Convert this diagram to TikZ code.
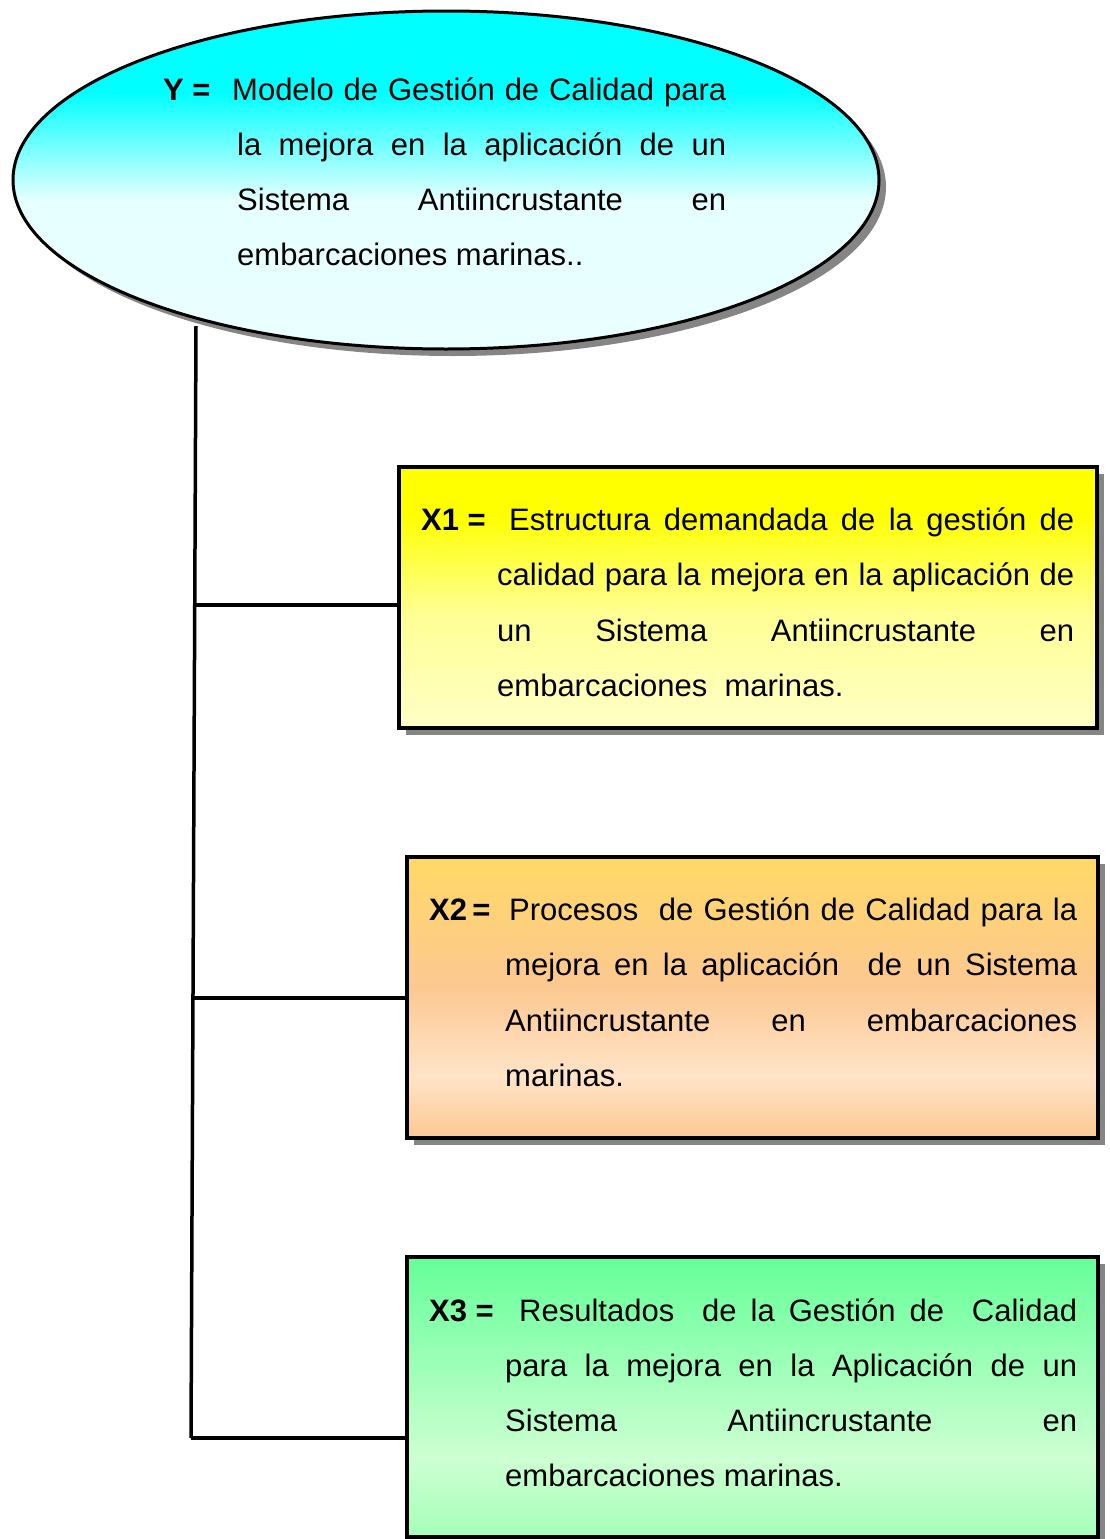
\documentclass[tikz,border=0pt]{standalone}
\usepackage{fontspec}
\setmainfont{Liberation Sans}
\usetikzlibrary{shapes.geometric,shadows}

\definecolor{oro}{RGB}{255,217,102}
\definecolor{durazno}{RGB}{252,200,145}
\definecolor{crema}{RGB}{255,228,200}
\definecolor{verdea}{RGB}{102,255,153}
\definecolor{verdeb}{RGB}{165,255,185}
\definecolor{verdec}{RGB}{205,255,210}

\pgfdeclareverticalshading{cielo}{100bp}{color(0bp)=(cyan!8); color(25bp)=(cyan!8); color(47bp)=(cyan!10); color(63bp)=(cyan); color(100bp)=(cyan)}
\pgfdeclareverticalshading{amarillo}{100bp}{color(0bp)=(yellow!22); color(25bp)=(yellow!22); color(47bp)=(yellow!42); color(66bp)=(yellow); color(100bp)=(yellow)}
\pgfdeclareverticalshading{naranja}{100bp}{color(0bp)=(durazno); color(25bp)=(durazno); color(36bp)=(crema); color(52bp)=(durazno); color(75bp)=(oro); color(100bp)=(oro)}
\pgfdeclareverticalshading{verde}{100bp}{color(0bp)=(verdeb); color(25bp)=(verdeb); color(39bp)=(verdec); color(75bp)=(verdea); color(100bp)=(verdea)}

\newcommand{\renglon}[2]{\makebox[#1pt][s]{#2}}

\begin{document}
\begin{tikzpicture}[x=1pt,y=-1pt,
  sombra/.style={drop shadow={shadow xshift=7pt,shadow yshift=-7pt,fill=black!48,opacity=1}},
  elipse/.style={ellipse,draw,line width=3pt,inner sep=0pt,minimum width=866pt,minimum height=338pt,sombra},
  caja/.style={rectangle,draw,line width=3.2pt,inner sep=0pt,sombra},
  texto/.style={anchor=base west,inner sep=0pt,font=\fontsize{31}{31}\selectfont},
  etiqueta/.style={texto,font=\fontsize{31}{31}\selectfont\bfseries},
  rama/.style={line width=3.5pt}]
  \useasboundingbox (0,0) rectangle (1109,1539);

  \node[elipse,shading=cielo] (y) at (446,180) {};
  \node[caja,shading=amarillo,minimum width=698pt,minimum height=261pt] (x1) at (748,597.5) {};
  \node[caja,shading=naranja,minimum width=691pt,minimum height=281pt] (x2) at (752.5,997.5) {};
  \node[caja,shading=verde,minimum width=691pt,minimum height=280pt] (x3) at (752.5,1397) {};

  \node[etiqueta] (ly) at (163,100) {Y =};
  \node[texto] (y1) at (232,100) {\renglon{494}{Modelo de Gestión de Calidad para}};
  \node[texto] (y2) at (237,155) {\renglon{489}{la mejora en la aplicación de un}};
  \node[texto] (y3) at (237,210) {\renglon{489}{Sistema Antiincrustante en}};
  \node[texto] (y4) at (237,265) {embarcaciones marinas..};

  \node[etiqueta] (lx1) at (421,530) {X1 =};
  \node[texto] (a1) at (509,530) {\renglon{565}{Estructura demandada de la gestión de}};
  \node[texto] (a2) at (497,585) {\renglon{577}{calidad para la mejora en la aplicación de}};
  \node[texto] (a3) at (497,641) {\renglon{577}{un Sistema Antiincrustante en}};
  \node[texto] (a4) at (497,696) {embarcaciones\ \ marinas.};

  \node[etiqueta] (lx2) at (429,920) {X2\,=};
  \node[texto] (b1) at (509,920) {\renglon{568}{Procesos \ de Gestión de Calidad para la}};
  \node[texto] (b2) at (505,975) {\renglon{572}{mejora en la aplicación \ de un Sistema}};
  \node[texto] (b3) at (505,1031) {\renglon{572}{Antiincrustante en embarcaciones}};
  \node[texto] (b4) at (505,1086) {marinas.};

  \node[etiqueta] (lx3) at (429,1321) {X3 =};
  \node[texto] (c1) at (519,1321) {\renglon{558}{Resultados \ de la Gestión de \ Calidad}};
  \node[texto] (c2) at (505,1376) {\renglon{572}{para la mejora en la Aplicación de un}};
  \node[texto] (c3) at (505,1431) {\renglon{572}{Sistema Antiincrustante en}};
  \node[texto] (c4) at (505,1486) {embarcaciones marinas.};

  \coordinate (t0) at (196,326);
  \coordinate (t1) at (195,605);
  \coordinate (t2) at (193,998);
  \coordinate (t3) at (191,1438);
  \draw[rama] (t0) -- (t3);
  \draw[rama] (t1) -- (t1 -| x1.west);
  \draw[rama] (t2) -- (t2 -| x2.west);
  \draw[rama] (t3) -- (t3 -| x3.west);
\end{tikzpicture}
\end{document}
